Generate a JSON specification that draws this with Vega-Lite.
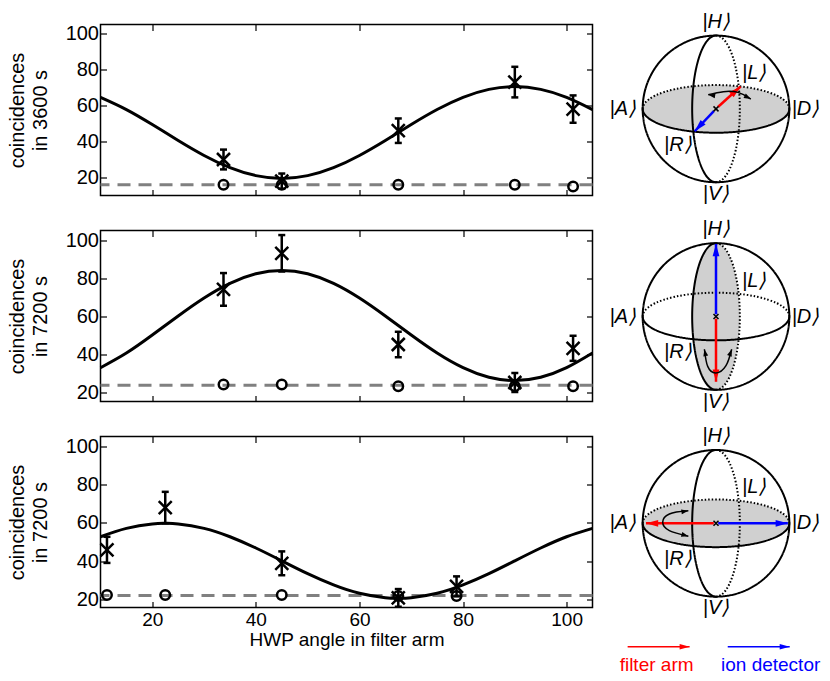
{
  "$schema": "https://vega.github.io/schema/vega-lite/v6.json",
  "background": "white",
  "padding": {"left": 5.5, "top": 11.5, "right": 0, "bottom": 0},
  "datasets": {
    "p1bg": [{"bg": 16}],
    "p2bg": [{"bg": 23.5}],
    "p3bg": [{"bg": 22.3}],
    "p1pts": [
      {"hwp": 33.75, "c": 30, "lo": 24.5, "hi": 35.5, "acc": 16},
      {"hwp": 45, "c": 18, "lo": 13.8, "hi": 22.2, "acc": 16},
      {"hwp": 67.5, "c": 46, "lo": 39.2, "hi": 52.8, "acc": 16},
      {"hwp": 90, "c": 73, "lo": 64.5, "hi": 81.5, "acc": 16},
      {"hwp": 101.25, "c": 58, "lo": 50.4, "hi": 65.6, "acc": 15}
    ],
    "p2pts": [
      {"hwp": 33.75, "c": 74, "lo": 65.4, "hi": 82.6, "acc": 24},
      {"hwp": 45, "c": 93, "lo": 83.4, "hi": 102.6, "acc": 24},
      {"hwp": 67.5, "c": 45, "lo": 38.3, "hi": 51.7, "acc": 23},
      {"hwp": 90, "c": 25, "lo": 20, "hi": 30, "acc": 23},
      {"hwp": 101.25, "c": 43, "lo": 36.4, "hi": 49.6, "acc": 23}
    ],
    "p3pts": [
      {"hwp": 11.25, "c": 46, "lo": 39.2, "hi": 52.8, "acc": 22.5},
      {"hwp": 22.5, "c": 68, "lo": 59.8, "hi": 76.2, "acc": 22.5},
      {"hwp": 45, "c": 39, "lo": 32.8, "hi": 45.2, "acc": 22.5},
      {"hwp": 67.5, "c": 21, "lo": 16.4, "hi": 25.6, "acc": 22},
      {"hwp": 78.75, "c": 27, "lo": 21.8, "hi": 32.2, "acc": 22}
    ],
    "p1fit": [
      {"hwp": 10, "fit": 64.53}, {"hwp": 15, "fit": 57.75}, {"hwp": 20, "fit": 49.43}, {"hwp": 25, "fit": 40.57},
      {"hwp": 30, "fit": 32.25}, {"hwp": 35, "fit": 25.47}, {"hwp": 40, "fit": 21.04}, {"hwp": 45, "fit": 19.5},
      {"hwp": 50, "fit": 21.04}, {"hwp": 55, "fit": 25.47}, {"hwp": 60, "fit": 32.25}, {"hwp": 65, "fit": 40.57},
      {"hwp": 70, "fit": 49.43}, {"hwp": 75, "fit": 57.75}, {"hwp": 80, "fit": 64.53}, {"hwp": 85, "fit": 68.96},
      {"hwp": 90, "fit": 70.5}, {"hwp": 95, "fit": 68.96}, {"hwp": 100, "fit": 64.53}, {"hwp": 105, "fit": 57.75}
    ],
    "p2fit": [
      {"hwp": 10, "fit": 32.79}, {"hwp": 15, "fit": 40.5}, {"hwp": 20, "fit": 49.97}, {"hwp": 25, "fit": 60.03},
      {"hwp": 30, "fit": 69.5}, {"hwp": 35, "fit": 77.21}, {"hwp": 40, "fit": 82.25}, {"hwp": 45, "fit": 84},
      {"hwp": 50, "fit": 82.25}, {"hwp": 55, "fit": 77.21}, {"hwp": 60, "fit": 69.5}, {"hwp": 65, "fit": 60.03},
      {"hwp": 70, "fit": 49.97}, {"hwp": 75, "fit": 40.5}, {"hwp": 80, "fit": 32.79}, {"hwp": 85, "fit": 27.75},
      {"hwp": 90, "fit": 26}, {"hwp": 95, "fit": 27.75}, {"hwp": 100, "fit": 32.79}, {"hwp": 105, "fit": 40.5}
    ],
    "p3fit": [
      {"hwp": 10, "fit": 52.83}, {"hwp": 15, "fit": 57.19}, {"hwp": 20, "fit": 59.5}, {"hwp": 22.5, "fit": 59.8},
      {"hwp": 25, "fit": 59.5}, {"hwp": 30, "fit": 57.19}, {"hwp": 35, "fit": 52.83}, {"hwp": 40, "fit": 46.97},
      {"hwp": 45, "fit": 40.3}, {"hwp": 50, "fit": 33.63}, {"hwp": 55, "fit": 27.77}, {"hwp": 60, "fit": 23.41},
      {"hwp": 65, "fit": 21.1}, {"hwp": 67.5, "fit": 20.8}, {"hwp": 70, "fit": 21.1}, {"hwp": 75, "fit": 23.41},
      {"hwp": 80, "fit": 27.77}, {"hwp": 85, "fit": 33.63}, {"hwp": 90, "fit": 40.3}, {"hwp": 95, "fit": 46.97},
      {"hwp": 100, "fit": 52.83}, {"hwp": 105, "fit": 57.19}
    ],
    "centre": [{"x": 0, "y": 0}],
    "parts": [
      {"part": "outline", "x": 0, "y": 0},
      {"part": "equator front", "x": 0, "y": 0},
      {"part": "equator back", "x": 0, "y": 0},
      {"part": "meridian front", "x": 0, "y": 0},
      {"part": "meridian back", "x": 0, "y": 0}
    ],
    "labels": [
      {"t": "|H⟩", "x": 0, "y": 1.19},
      {"t": "|V⟩", "x": 0, "y": -1.16},
      {"t": "|A⟩", "x": -1.27, "y": 0},
      {"t": "|D⟩", "x": 1.22, "y": 0},
      {"t": "|L⟩", "x": 0.52, "y": 0.49},
      {"t": "|R⟩", "x": -0.52, "y": -0.49}
    ],
    "s1arrows": [
      {"arm": "filter", "xs": 0.03, "ys": 0.03, "x": 0.335, "y": 0.305, "ang": 48},
      {"arm": "ion", "xs": -0.03, "ys": -0.03, "x": -0.29, "y": -0.305, "ang": 223}
    ],
    "s1curve": [
      {"k": 1, "x": -0.106, "y": 0.194}, {"k": 2, "x": 0.1, "y": 0.235},
      {"k": 3, "x": 0.3, "y": 0.225}, {"k": 4, "x": 0.475, "y": 0.134}
    ],
    "s1heads": [{"x": -0.106, "y": 0.194, "ang": 280}, {"x": 0.475, "y": 0.134, "ang": 118}],
    "s2arrows": [
      {"arm": "ion", "xs": 0, "ys": 0.03, "x": 0, "y": 0.99, "ang": 0},
      {"arm": "filter", "xs": 0, "ys": -0.03, "x": 0, "y": -0.89, "ang": 180}
    ],
    "s2curve": [
      {"k": 1, "x": -0.158, "y": -0.446}, {"k": 2, "x": -0.113, "y": -0.68}, {"k": 3, "x": 0, "y": -0.77},
      {"k": 4, "x": 0.136, "y": -0.67}, {"k": 5, "x": 0.214, "y": -0.446}
    ],
    "s2heads": [{"x": -0.158, "y": -0.446, "ang": 349}, {"x": 0.214, "y": -0.446, "ang": 19}],
    "s3arrows": [
      {"arm": "filter", "xs": -0.03, "ys": 0, "x": -0.955, "y": 0, "ang": 270},
      {"arm": "ion", "xs": 0.03, "ys": 0, "x": 0.98, "y": 0, "ang": 90}
    ],
    "s3curve": [
      {"k": 1, "x": -0.377, "y": 0.17}, {"k": 2, "x": -0.636, "y": 0.128}, {"k": 3, "x": -0.727, "y": 0.014},
      {"k": 4, "x": -0.636, "y": -0.1}, {"k": 5, "x": -0.377, "y": -0.177}
    ],
    "s3heads": [{"x": -0.377, "y": 0.17, "ang": 81}, {"x": -0.377, "y": -0.177, "ang": 106}],
    "legendarrows": [
      {"arm": "filter", "xs": -1.205, "ys": -1.682, "x": -0.36, "y": -1.682, "ang": 90},
      {"arm": "ion", "xs": 0.16, "ys": -1.682, "x": 1.005, "y": -1.682, "ang": 90}
    ],
    "legendtext": [
      {"arm": "filter", "t": "filter arm", "x": -0.81, "y": -1.93},
      {"arm": "ion", "t": "ion detector", "x": 0.745, "y": -1.93}
    ]
  },
  "columns": 2,
  "spacing": {"row": 35, "column": 13.5},
  "bounds": "flush",
  "align": "each",
  "resolve": {"scale": {"x": "independent", "y": "independent", "color": "independent", "shape": "independent", "strokeDash": "independent"}},
  "concat": [
    {
      "width": 492, "height": 171,
      "layer": [
        {"data": {"name": "p1bg"}, "mark": {"type": "rule", "color": "#808080", "strokeWidth": 3, "strokeDash": [13, 8]},
         "encoding": {"y": {"field": "bg", "type": "quantitative", "scale": {"domain": [10, 105], "nice": false, "zero": false},
           "axis": {"orient": "left", "values": [20, 40, 60, 80, 100], "title": ["coincidences", "in 3600 s"]}}}},
        {"data": {"name": "p1fit"}, "mark": {"type": "line", "color": "black", "strokeWidth": 3, "interpolate": "natural"},
         "encoding": {
           "x": {"field": "hwp", "type": "quantitative", "scale": {"domain": [10, 105], "nice": false, "zero": false},
             "axis": {"orient": "bottom", "values": [20, 40, 60, 80, 100], "labels": false, "title": null}},
           "y": {"field": "fit", "type": "quantitative", "scale": {"domain": [10, 105], "nice": false, "zero": false},
             "axis": {"orient": "right", "values": [20, 40, 60, 80, 100], "labels": false, "title": null}}}},
        {"data": {"name": "p1pts"}, "mark": {"type": "point", "shape": "circle", "size": 90, "filled": false, "color": "black", "strokeWidth": 2.5, "opacity": 1},
         "encoding": {
           "x": {"field": "hwp", "type": "quantitative", "scale": {"domain": [10, 105], "nice": false, "zero": false},
             "axis": {"orient": "top", "values": [20, 40, 60, 80, 100], "labels": false, "title": null}},
           "y": {"field": "acc", "type": "quantitative", "scale": {"domain": [10, 105], "nice": false, "zero": false}, "axis": null}}},
        {"data": {"name": "p1pts"}, "mark": {"type": "rule", "color": "black", "strokeWidth": 2.5},
         "encoding": {
           "x": {"field": "hwp", "type": "quantitative", "scale": {"domain": [10, 105], "nice": false, "zero": false}, "axis": null},
           "y": {"field": "lo", "type": "quantitative", "scale": {"domain": [10, 105], "nice": false, "zero": false}, "axis": null},
           "y2": {"field": "hi"}}},
        {"data": {"name": "p1pts"}, "mark": {"type": "tick", "orient": "horizontal", "color": "black", "size": 7, "thickness": 2.5, "opacity": 1},
         "encoding": {
           "x": {"field": "hwp", "type": "quantitative", "scale": {"domain": [10, 105], "nice": false, "zero": false}, "axis": null},
           "y": {"field": "lo", "type": "quantitative", "scale": {"domain": [10, 105], "nice": false, "zero": false}, "axis": null}}},
        {"data": {"name": "p1pts"}, "mark": {"type": "tick", "orient": "horizontal", "color": "black", "size": 7, "thickness": 2.5, "opacity": 1},
         "encoding": {
           "x": {"field": "hwp", "type": "quantitative", "scale": {"domain": [10, 105], "nice": false, "zero": false}, "axis": null},
           "y": {"field": "hi", "type": "quantitative", "scale": {"domain": [10, 105], "nice": false, "zero": false}, "axis": null}}},
        {"data": {"name": "p1pts"}, "mark": {"type": "point", "shape": "M-1,-1L1,1M-1,1L1,-1", "size": 169, "filled": false, "color": "black", "strokeWidth": 2.5, "opacity": 1},
         "encoding": {
           "x": {"field": "hwp", "type": "quantitative", "scale": {"domain": [10, 105], "nice": false, "zero": false}, "axis": null},
           "y": {"field": "c", "type": "quantitative", "scale": {"domain": [10, 105], "nice": false, "zero": false}, "axis": null}}}
      ]
    },
    {
      "width": 220, "height": 171, "view": {"stroke": null},
      "encoding": {
        "x": {"field": "x", "type": "quantitative", "scale": {"domain": [-1.5, 1.5], "nice": false, "zero": false}, "axis": null},
        "y": {"field": "y", "type": "quantitative", "scale": {"domain": [-1.181, 1.151], "nice": false, "zero": false}, "axis": null}
      },
      "layer": [
        {"data": {"name": "centre"}, "mark": {"type": "point", "shape": "M-1,0C-1,0.1795,-0.5523,0.325,0,0.325C0.5523,0.325,1,0.1795,1,0C1,-0.1795,0.5523,-0.325,0,-0.325C-0.5523,-0.325,-1,-0.1795,-1,0Z", "size": 21511, "filled": true, "fill": "#d0d0d0", "strokeWidth": 0, "opacity": 1}},
        {"data": {"name": "parts"}, "mark": {"type": "point", "size": 21511, "filled": false, "color": "black", "strokeWidth": 2, "opacity": 1},
         "encoding": {
           "shape": {"field": "part", "type": "nominal", "legend": null, "scale": {"domain": ["outline", "equator front", "equator back", "meridian front", "meridian back"],
             "range": ["M1,0C1,0.5523,0.5523,1,0,1C-0.5523,1,-1,0.5523,-1,0C-1,-0.5523,-0.5523,-1,0,-1C0.5523,-1,1,-0.5523,1,0Z",
                       "M-1,0C-1,0.1795,-0.5523,0.325,0,0.325C0.5523,0.325,1,0.1795,1,0",
                       "M-1,0C-1,-0.1795,-0.5523,-0.325,0,-0.325C0.5523,-0.325,1,-0.1795,1,0",
                       "M0,-1C-0.1795,-1,-0.325,-0.5523,-0.325,0C-0.325,0.5523,-0.1795,1,0,1",
                       "M0,-1C0.1795,-1,0.325,-0.5523,0.325,0C0.325,0.5523,0.1795,1,0,1"]}},
           "strokeDash": {"field": "part", "type": "nominal", "legend": null, "scale": {"domain": ["outline", "equator front", "equator back", "meridian front", "meridian back"],
             "range": [[1, 0], [1, 0], [1.5, 2], [1, 0], [1.5, 2]]}}}},
        {"data": {"name": "s1arrows"}, "mark": {"type": "rule", "strokeWidth": 2.5},
         "encoding": {"x2": {"field": "xs"}, "y2": {"field": "ys"},
           "color": {"field": "arm", "type": "nominal", "legend": null, "scale": {"domain": ["filter", "ion"], "range": ["#ff0000", "#0000ff"]}}}},
        {"data": {"name": "s1arrows"}, "mark": {"type": "point", "shape": "M0,0L0.55,2L-0.55,2Z", "size": 150, "filled": true, "opacity": 1},
         "encoding": {"angle": {"field": "ang", "type": "quantitative", "scale": null},
           "color": {"field": "arm", "type": "nominal", "legend": null, "scale": {"domain": ["filter", "ion"], "range": ["#ff0000", "#0000ff"]}}}},
        {"data": {"name": "s1curve"}, "mark": {"type": "line", "color": "black", "strokeWidth": 1.5, "interpolate": "natural"},
         "encoding": {"order": {"field": "k", "type": "quantitative"}}},
        {"data": {"name": "s1heads"}, "mark": {"type": "point", "shape": "M0,0L0.7,2L-0.7,2Z", "size": 49, "filled": true, "color": "black", "opacity": 1},
         "encoding": {"angle": {"field": "ang", "type": "quantitative", "scale": null}}},
        {"data": {"name": "centre"}, "mark": {"type": "point", "shape": "M-1,-1L1,1M-1,1L1,-1", "size": 25, "filled": false, "color": "black", "strokeWidth": 1.5, "opacity": 1}},
        {"data": {"name": "labels"}, "mark": {"type": "text", "font": "Liberation Sans", "fontSize": 20, "fontStyle": "italic", "color": "black", "align": "center", "baseline": "middle"},
         "encoding": {"text": {"field": "t"}}}
      ]
    },
    {
      "width": 492, "height": 171,
      "layer": [
        {"data": {"name": "p2bg"}, "mark": {"type": "rule", "color": "#808080", "strokeWidth": 3, "strokeDash": [13, 8]},
         "encoding": {"y": {"field": "bg", "type": "quantitative", "scale": {"domain": [15, 105], "nice": false, "zero": false},
           "axis": {"orient": "left", "values": [20, 40, 60, 80, 100], "title": ["coincidences", "in 7200 s"]}}}},
        {"data": {"name": "p2fit"}, "mark": {"type": "line", "color": "black", "strokeWidth": 3, "interpolate": "natural"},
         "encoding": {
           "x": {"field": "hwp", "type": "quantitative", "scale": {"domain": [10, 105], "nice": false, "zero": false},
             "axis": {"orient": "bottom", "values": [20, 40, 60, 80, 100], "labels": false, "title": null}},
           "y": {"field": "fit", "type": "quantitative", "scale": {"domain": [15, 105], "nice": false, "zero": false},
             "axis": {"orient": "right", "values": [20, 40, 60, 80, 100], "labels": false, "title": null}}}},
        {"data": {"name": "p2pts"}, "mark": {"type": "point", "shape": "circle", "size": 90, "filled": false, "color": "black", "strokeWidth": 2.5, "opacity": 1},
         "encoding": {
           "x": {"field": "hwp", "type": "quantitative", "scale": {"domain": [10, 105], "nice": false, "zero": false},
             "axis": {"orient": "top", "values": [20, 40, 60, 80, 100], "labels": false, "title": null}},
           "y": {"field": "acc", "type": "quantitative", "scale": {"domain": [15, 105], "nice": false, "zero": false}, "axis": null}}},
        {"data": {"name": "p2pts"}, "mark": {"type": "rule", "color": "black", "strokeWidth": 2.5},
         "encoding": {
           "x": {"field": "hwp", "type": "quantitative", "scale": {"domain": [10, 105], "nice": false, "zero": false}, "axis": null},
           "y": {"field": "lo", "type": "quantitative", "scale": {"domain": [15, 105], "nice": false, "zero": false}, "axis": null},
           "y2": {"field": "hi"}}},
        {"data": {"name": "p2pts"}, "mark": {"type": "tick", "orient": "horizontal", "color": "black", "size": 7, "thickness": 2.5, "opacity": 1},
         "encoding": {
           "x": {"field": "hwp", "type": "quantitative", "scale": {"domain": [10, 105], "nice": false, "zero": false}, "axis": null},
           "y": {"field": "lo", "type": "quantitative", "scale": {"domain": [15, 105], "nice": false, "zero": false}, "axis": null}}},
        {"data": {"name": "p2pts"}, "mark": {"type": "tick", "orient": "horizontal", "color": "black", "size": 7, "thickness": 2.5, "opacity": 1},
         "encoding": {
           "x": {"field": "hwp", "type": "quantitative", "scale": {"domain": [10, 105], "nice": false, "zero": false}, "axis": null},
           "y": {"field": "hi", "type": "quantitative", "scale": {"domain": [15, 105], "nice": false, "zero": false}, "axis": null}}},
        {"data": {"name": "p2pts"}, "mark": {"type": "point", "shape": "M-1,-1L1,1M-1,1L1,-1", "size": 169, "filled": false, "color": "black", "strokeWidth": 2.5, "opacity": 1},
         "encoding": {
           "x": {"field": "hwp", "type": "quantitative", "scale": {"domain": [10, 105], "nice": false, "zero": false}, "axis": null},
           "y": {"field": "c", "type": "quantitative", "scale": {"domain": [15, 105], "nice": false, "zero": false}, "axis": null}}}
      ]
    },
    {
      "width": 220, "height": 171, "view": {"stroke": null},
      "encoding": {
        "x": {"field": "x", "type": "quantitative", "scale": {"domain": [-1.5, 1.5], "nice": false, "zero": false}, "axis": null},
        "y": {"field": "y", "type": "quantitative", "scale": {"domain": [-1.159, 1.173], "nice": false, "zero": false}, "axis": null}
      },
      "layer": [
        {"data": {"name": "centre"}, "mark": {"type": "point", "shape": "M0,-1C0.1795,-1,0.325,-0.5523,0.325,0C0.325,0.5523,0.1795,1,0,1C-0.1795,1,-0.325,0.5523,-0.325,0C-0.325,-0.5523,-0.1795,-1,0,-1Z", "size": 21511, "filled": true, "fill": "#d0d0d0", "strokeWidth": 0, "opacity": 1}},
        {"data": {"name": "parts"}, "mark": {"type": "point", "size": 21511, "filled": false, "color": "black", "strokeWidth": 2, "opacity": 1},
         "encoding": {
           "shape": {"field": "part", "type": "nominal", "legend": null, "scale": {"domain": ["outline", "equator front", "equator back", "meridian front", "meridian back"],
             "range": ["M1,0C1,0.5523,0.5523,1,0,1C-0.5523,1,-1,0.5523,-1,0C-1,-0.5523,-0.5523,-1,0,-1C0.5523,-1,1,-0.5523,1,0Z",
                       "M-1,0C-1,0.1795,-0.5523,0.325,0,0.325C0.5523,0.325,1,0.1795,1,0",
                       "M-1,0C-1,-0.1795,-0.5523,-0.325,0,-0.325C0.5523,-0.325,1,-0.1795,1,0",
                       "M0,-1C-0.1795,-1,-0.325,-0.5523,-0.325,0C-0.325,0.5523,-0.1795,1,0,1",
                       "M0,-1C0.1795,-1,0.325,-0.5523,0.325,0C0.325,0.5523,0.1795,1,0,1"]}},
           "strokeDash": {"field": "part", "type": "nominal", "legend": null, "scale": {"domain": ["outline", "equator front", "equator back", "meridian front", "meridian back"],
             "range": [[1, 0], [1, 0], [1.5, 2], [1, 0], [1.5, 2]]}}}},
        {"data": {"name": "s2arrows"}, "mark": {"type": "rule", "strokeWidth": 2.5},
         "encoding": {"x2": {"field": "xs"}, "y2": {"field": "ys"},
           "color": {"field": "arm", "type": "nominal", "legend": null, "scale": {"domain": ["filter", "ion"], "range": ["#ff0000", "#0000ff"]}}}},
        {"data": {"name": "s2arrows"}, "mark": {"type": "point", "shape": "M0,0L0.55,2L-0.55,2Z", "size": 150, "filled": true, "opacity": 1},
         "encoding": {"angle": {"field": "ang", "type": "quantitative", "scale": null},
           "color": {"field": "arm", "type": "nominal", "legend": null, "scale": {"domain": ["filter", "ion"], "range": ["#ff0000", "#0000ff"]}}}},
        {"data": {"name": "s2curve"}, "mark": {"type": "line", "color": "black", "strokeWidth": 1.5, "interpolate": "natural"},
         "encoding": {"order": {"field": "k", "type": "quantitative"}}},
        {"data": {"name": "s2heads"}, "mark": {"type": "point", "shape": "M0,0L0.7,2L-0.7,2Z", "size": 49, "filled": true, "color": "black", "opacity": 1},
         "encoding": {"angle": {"field": "ang", "type": "quantitative", "scale": null}}},
        {"data": {"name": "centre"}, "mark": {"type": "point", "shape": "M-1,-1L1,1M-1,1L1,-1", "size": 25, "filled": false, "color": "black", "strokeWidth": 1.5, "opacity": 1}},
        {"data": {"name": "labels"}, "mark": {"type": "text", "font": "Liberation Sans", "fontSize": 20, "fontStyle": "italic", "color": "black", "align": "center", "baseline": "middle"},
         "encoding": {"text": {"field": "t"}}}
      ]
    },
    {
      "width": 492, "height": 171,
      "layer": [
        {"data": {"name": "p3bg"}, "mark": {"type": "rule", "color": "#808080", "strokeWidth": 3, "strokeDash": [13, 8]},
         "encoding": {"y": {"field": "bg", "type": "quantitative", "scale": {"domain": [16, 105], "nice": false, "zero": false},
           "axis": {"orient": "left", "values": [20, 40, 60, 80, 100], "title": ["coincidences", "in 7200 s"]}}}},
        {"data": {"name": "p3fit"}, "mark": {"type": "line", "color": "black", "strokeWidth": 3, "interpolate": "natural"},
         "encoding": {
           "x": {"field": "hwp", "type": "quantitative", "scale": {"domain": [10, 105], "nice": false, "zero": false},
             "axis": {"orient": "bottom", "values": [20, 40, 60, 80, 100], "title": "HWP angle in filter arm"}},
           "y": {"field": "fit", "type": "quantitative", "scale": {"domain": [16, 105], "nice": false, "zero": false},
             "axis": {"orient": "right", "values": [20, 40, 60, 80, 100], "labels": false, "title": null}}}},
        {"data": {"name": "p3pts"}, "mark": {"type": "point", "shape": "circle", "size": 90, "filled": false, "color": "black", "strokeWidth": 2.5, "opacity": 1},
         "encoding": {
           "x": {"field": "hwp", "type": "quantitative", "scale": {"domain": [10, 105], "nice": false, "zero": false},
             "axis": {"orient": "top", "values": [20, 40, 60, 80, 100], "labels": false, "title": null}},
           "y": {"field": "acc", "type": "quantitative", "scale": {"domain": [16, 105], "nice": false, "zero": false}, "axis": null}}},
        {"data": {"name": "p3pts"}, "mark": {"type": "rule", "color": "black", "strokeWidth": 2.5},
         "encoding": {
           "x": {"field": "hwp", "type": "quantitative", "scale": {"domain": [10, 105], "nice": false, "zero": false}, "axis": null},
           "y": {"field": "lo", "type": "quantitative", "scale": {"domain": [16, 105], "nice": false, "zero": false}, "axis": null},
           "y2": {"field": "hi"}}},
        {"data": {"name": "p3pts"}, "mark": {"type": "tick", "orient": "horizontal", "color": "black", "size": 7, "thickness": 2.5, "opacity": 1},
         "encoding": {
           "x": {"field": "hwp", "type": "quantitative", "scale": {"domain": [10, 105], "nice": false, "zero": false}, "axis": null},
           "y": {"field": "lo", "type": "quantitative", "scale": {"domain": [16, 105], "nice": false, "zero": false}, "axis": null}}},
        {"data": {"name": "p3pts"}, "mark": {"type": "tick", "orient": "horizontal", "color": "black", "size": 7, "thickness": 2.5, "opacity": 1},
         "encoding": {
           "x": {"field": "hwp", "type": "quantitative", "scale": {"domain": [10, 105], "nice": false, "zero": false}, "axis": null},
           "y": {"field": "hi", "type": "quantitative", "scale": {"domain": [16, 105], "nice": false, "zero": false}, "axis": null}}},
        {"data": {"name": "p3pts"}, "mark": {"type": "point", "shape": "M-1,-1L1,1M-1,1L1,-1", "size": 169, "filled": false, "color": "black", "strokeWidth": 2.5, "opacity": 1},
         "encoding": {
           "x": {"field": "hwp", "type": "quantitative", "scale": {"domain": [10, 105], "nice": false, "zero": false}, "axis": null},
           "y": {"field": "c", "type": "quantitative", "scale": {"domain": [16, 105], "nice": false, "zero": false}, "axis": null}}}
      ]
    },
    {
      "width": 220, "height": 171, "view": {"stroke": null},
      "encoding": {
        "x": {"field": "x", "type": "quantitative", "scale": {"domain": [-1.5, 1.5], "nice": false, "zero": false}, "axis": null},
        "y": {"field": "y", "type": "quantitative", "scale": {"domain": [-1.148, 1.184], "nice": false, "zero": false}, "axis": null}
      },
      "layer": [
        {"data": {"name": "centre"}, "mark": {"type": "point", "shape": "M-1,0C-1,0.1795,-0.5523,0.325,0,0.325C0.5523,0.325,1,0.1795,1,0C1,-0.1795,0.5523,-0.325,0,-0.325C-0.5523,-0.325,-1,-0.1795,-1,0Z", "size": 21511, "filled": true, "fill": "#d0d0d0", "strokeWidth": 0, "opacity": 1}},
        {"data": {"name": "parts"}, "mark": {"type": "point", "size": 21511, "filled": false, "color": "black", "strokeWidth": 2, "opacity": 1},
         "encoding": {
           "shape": {"field": "part", "type": "nominal", "legend": null, "scale": {"domain": ["outline", "equator front", "equator back", "meridian front", "meridian back"],
             "range": ["M1,0C1,0.5523,0.5523,1,0,1C-0.5523,1,-1,0.5523,-1,0C-1,-0.5523,-0.5523,-1,0,-1C0.5523,-1,1,-0.5523,1,0Z",
                       "M-1,0C-1,0.1795,-0.5523,0.325,0,0.325C0.5523,0.325,1,0.1795,1,0",
                       "M-1,0C-1,-0.1795,-0.5523,-0.325,0,-0.325C0.5523,-0.325,1,-0.1795,1,0",
                       "M0,-1C-0.1795,-1,-0.325,-0.5523,-0.325,0C-0.325,0.5523,-0.1795,1,0,1",
                       "M0,-1C0.1795,-1,0.325,-0.5523,0.325,0C0.325,0.5523,0.1795,1,0,1"]}},
           "strokeDash": {"field": "part", "type": "nominal", "legend": null, "scale": {"domain": ["outline", "equator front", "equator back", "meridian front", "meridian back"],
             "range": [[1, 0], [1, 0], [1.5, 2], [1, 0], [1.5, 2]]}}}},
        {"data": {"name": "s3arrows"}, "mark": {"type": "rule", "strokeWidth": 2.5},
         "encoding": {"x2": {"field": "xs"}, "y2": {"field": "ys"},
           "color": {"field": "arm", "type": "nominal", "legend": null, "scale": {"domain": ["filter", "ion"], "range": ["#ff0000", "#0000ff"]}}}},
        {"data": {"name": "s3arrows"}, "mark": {"type": "point", "shape": "M0,0L0.55,2L-0.55,2Z", "size": 150, "filled": true, "opacity": 1},
         "encoding": {"angle": {"field": "ang", "type": "quantitative", "scale": null},
           "color": {"field": "arm", "type": "nominal", "legend": null, "scale": {"domain": ["filter", "ion"], "range": ["#ff0000", "#0000ff"]}}}},
        {"data": {"name": "s3curve"}, "mark": {"type": "line", "color": "black", "strokeWidth": 1.5, "interpolate": "natural"},
         "encoding": {"order": {"field": "k", "type": "quantitative"}}},
        {"data": {"name": "s3heads"}, "mark": {"type": "point", "shape": "M0,0L0.7,2L-0.7,2Z", "size": 49, "filled": true, "color": "black", "opacity": 1},
         "encoding": {"angle": {"field": "ang", "type": "quantitative", "scale": null}}},
        {"data": {"name": "centre"}, "mark": {"type": "point", "shape": "M-1,-1L1,1M-1,1L1,-1", "size": 25, "filled": false, "color": "black", "strokeWidth": 1.5, "opacity": 1}},
        {"data": {"name": "labels"}, "mark": {"type": "text", "font": "Liberation Sans", "fontSize": 20, "fontStyle": "italic", "color": "black", "align": "center", "baseline": "middle"},
         "encoding": {"text": {"field": "t"}}},
        {"data": {"name": "legendarrows"}, "mark": {"type": "rule", "strokeWidth": 1.5},
         "encoding": {"x2": {"field": "xs"}, "y2": {"field": "ys"},
           "color": {"field": "arm", "type": "nominal", "legend": null, "scale": {"domain": ["filter", "ion"], "range": ["#ff0000", "#0000ff"]}}}},
        {"data": {"name": "legendarrows"}, "mark": {"type": "point", "shape": "M0,0L0.55,2L-0.55,2Z", "size": 100, "filled": true, "opacity": 1},
         "encoding": {"angle": {"field": "ang", "type": "quantitative", "scale": null},
           "color": {"field": "arm", "type": "nominal", "legend": null, "scale": {"domain": ["filter", "ion"], "range": ["#ff0000", "#0000ff"]}}}},
        {"data": {"name": "legendtext"}, "mark": {"type": "text", "font": "Liberation Sans", "fontSize": 19, "align": "center", "baseline": "middle"},
         "encoding": {"text": {"field": "t"},
           "color": {"field": "arm", "type": "nominal", "legend": null, "scale": {"domain": ["filter", "ion"], "range": ["#ff0000", "#0000ff"]}}}}
      ]
    }
  ],
  "config": {
    "font": "Liberation Sans",
    "view": {"stroke": "black", "strokeWidth": 1.5},
    "axis": {
      "domain": false, "grid": false,
      "tickColor": "black", "tickWidth": 1.2, "tickSize": -6,
      "labelFont": "Liberation Sans", "labelFontSize": 20, "labelColor": "black",
      "titleFont": "Liberation Sans", "titleFontSize": 20, "titleFontWeight": "normal", "titleColor": "black",
      "titleLineHeight": 23
    },
    "axisX": {"labelPadding": 9, "labelFontSize": 19, "titlePadding": 1, "titleFontSize": 19},
    "axisY": {"labelPadding": 8, "titlePadding": 15}
  }
}
